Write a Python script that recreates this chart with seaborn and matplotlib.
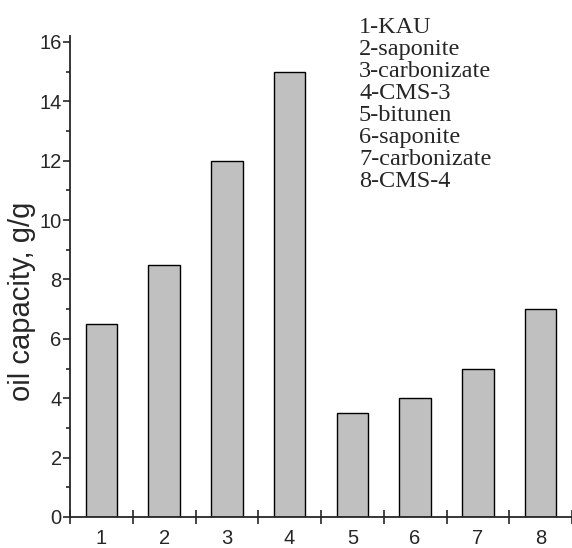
import matplotlib
matplotlib.use("Agg")
import matplotlib.pyplot as plt
import seaborn as sns
import pandas as pd
import numpy as np

categories = ["1", "2", "3", "4", "5", "6", "7", "8"]
values = [6.5, 8.5, 12.0, 15.0, 3.5, 4.0, 5.0, 7.0]
legend_lines = ["1-KAU", "2-saponite", "3-carbonizate", "4-CMS-3",
                "5-bitunen", "6-saponite", "7-carbonizate", "8-CMS-4"]
y_ticks = [0, 2, 4, 6, 8, 10, 12, 14, 16]

sns.set_style("ticks")
plt.rcParams["font.family"] = ["Liberation Sans", "DejaVu Sans"]

df = pd.DataFrame({"cat": categories, "val": values})

fig = plt.figure(figsize=(5.72, 5.48), dpi=100)
ax = fig.add_axes([70/572, 31/548, 1 - 70/572, (517-36)/548])

sns.barplot(data=df, x="cat", y="val", ax=ax, color="#c0c0c0",
            saturation=1, width=0.5, edgecolor="black", linewidth=1.0)

ax.set_xlim(-0.5, 7.5)
ax.set_ylim(0, 16.2)
ax.spines["top"].set_visible(False)
ax.spines["right"].set_visible(False)
for s in ("left", "bottom"):
    ax.spines[s].set_linewidth(1.3)

ax.set_xticks(np.arange(-0.5, 8.0, 1.0))
ax.set_xticklabels([])
ax.set_xticks(np.arange(0, 8), minor=True)
ax.set_xticklabels(categories, minor=True)
ax.tick_params(axis="x", which="major", direction="inout", length=10, width=1.2)
ax.tick_params(axis="x", which="minor", direction="in", length=3, width=1.2,
               labelsize=14.5, pad=9)

ax.set_yticks(y_ticks)
ax.set_yticklabels([str(t) for t in y_ticks])
ax.set_yticks(np.arange(1, 16, 2), minor=True)
ax.tick_params(axis="y", which="major", direction="out", length=5, width=1.2,
               labelsize=14.5, pad=1)
ax.tick_params(axis="y", which="minor", direction="out", length=3, width=1.2)

ax.set_xlabel("")
ax.set_ylabel("oil capacity, g/g", fontsize=21)
ax.yaxis.set_label_coords(-0.068, 0.449)

for i, t in enumerate(legend_lines):
    fig.text(359/572, 1 - (33 + i*22)/548, t, fontsize=17.5,
             family=["Liberation Serif", "DejaVu Serif"], va="baseline", ha="left")

fig.savefig("out.png", dpi=100)
